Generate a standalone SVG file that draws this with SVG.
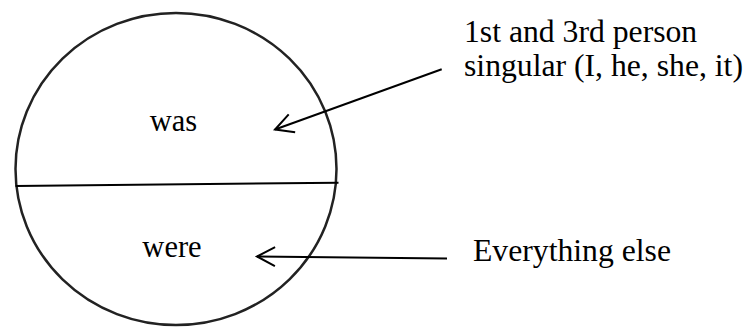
<svg xmlns="http://www.w3.org/2000/svg" width="750" height="328" viewBox="0 0 750 328">
<style>
  text { font-family: "Liberation Serif", "Times New Roman", serif; fill: #000; }
  .inner { font-size: 30.5px; text-anchor: middle; }
  .label { font-size: 31.7px; }
  .conn { stroke: #000; stroke-width: 2; fill: none; }
</style>
<defs>
  <marker id="open" viewBox="-21 -12 24 24" refX="0" refY="0" markerWidth="24" markerHeight="24" markerUnits="userSpaceOnUse" orient="auto" overflow="visible">
    <path d="M-18,-9.5 L0,0 L-18,9.5" fill="none" stroke="#000" stroke-width="2"/>
  </marker>
</defs>
<rect width="750" height="328" fill="#fff"/>
<g id="circle">
  <ellipse cx="176" cy="169" rx="160.5" ry="156" fill="none" stroke="#222" stroke-width="2.5"/>
  <line x1="15.5" y1="186" x2="338.5" y2="182.7" stroke="#000" stroke-width="2"/>
</g>
<g id="was">
  <text class="inner" x="173.5" y="131">was</text>
</g>
<g id="were">
  <text class="inner" x="172" y="257">were</text>
</g>
<g id="singular">
  <text class="label" x="464" y="42">1st and 3rd person</text>
  <text class="label" x="464" y="76">singular (I, he, she, it)</text>
</g>
<g id="else">
  <text class="label" x="473" y="260.5">Everything else</text>
</g>
<g id="connectors">
  <line class="conn" x1="441.7" y1="69.3" x2="275" y2="129.5" marker-end="url(#open)"/>
  <line class="conn" x1="447" y1="258.5" x2="257" y2="256.5" marker-end="url(#open)"/>
</g>
</svg>
